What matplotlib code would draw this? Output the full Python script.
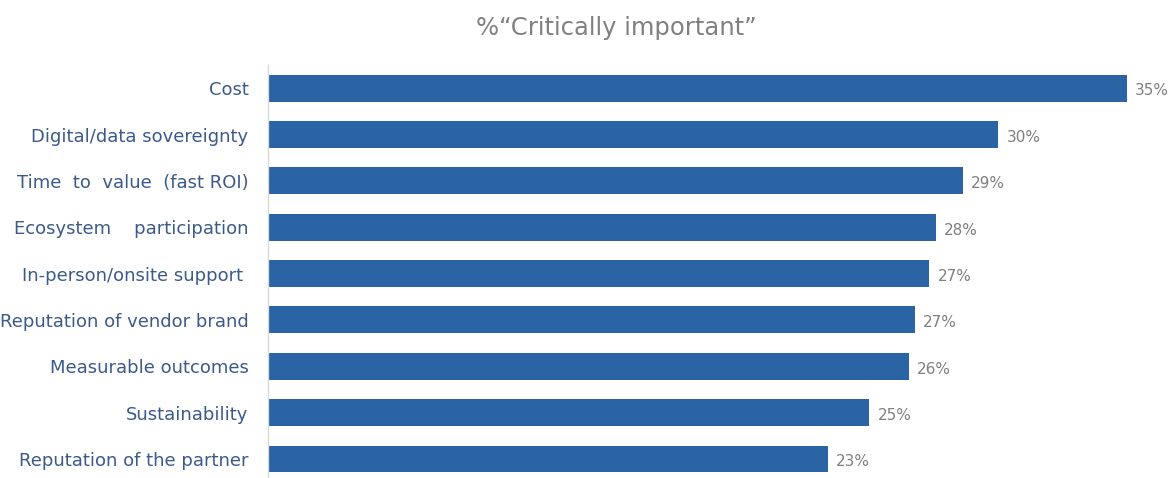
import matplotlib
matplotlib.use("Agg")
import matplotlib.pyplot as plt

categories = [
    "Cost",
    "Digital/data sovereignty",
    "Time  to  value  (fast ROI)",
    "Ecosystem    participation",
    "In-person/onsite support ",
    "Reputation of vendor brand",
    "Measurable outcomes",
    "Sustainability",
    "Reputation of the partner",
]
values = [35.0, 29.75, 28.3, 27.2, 26.95, 26.35, 26.1, 24.5, 22.8]
value_labels = ["35%", "30%", "29%", "28%", "27%", "27%", "26%", "25%", "23%"]
title = "%\u201cCritically important\u201d"

W, H = 1174, 478
fig = plt.figure(figsize=(W / 100, H / 100), dpi=100)
ax = fig.add_axes([268 / W, 0.0, (1151.5 - 268) / W, 1 - 65 / H])

pos = list(range(len(categories)))
ax.barh(pos, values, height=0.58, color="#2a64a4")
ax.set_xlim(0, 36)
ax.set_ylim(8.41, -0.5)
ax.set_yticks(pos)
ax.set_yticklabels(categories, fontsize=13.0, color="#3b5a8a")
ax.tick_params(axis="y", length=0, pad=14)
ax.set_xticks([])
for s in ["top", "right", "bottom"]:
    ax.spines[s].set_visible(False)
ax.spines["left"].set_color("#d9d9d9")
ax.spines["left"].set_linewidth(1.0)

for p, v, lab in zip(pos, values, value_labels):
    ax.annotate(lab, (v, p), xytext=(6, -2), textcoords="offset points",
                va="center", ha="left", fontsize=11, color="#7f7f7f")

fig.text(616 / W, 1 - 28 / H, title, ha="center", va="center",
         fontsize=17.5, color="#808080")

fig.savefig("out.png", dpi=100)
